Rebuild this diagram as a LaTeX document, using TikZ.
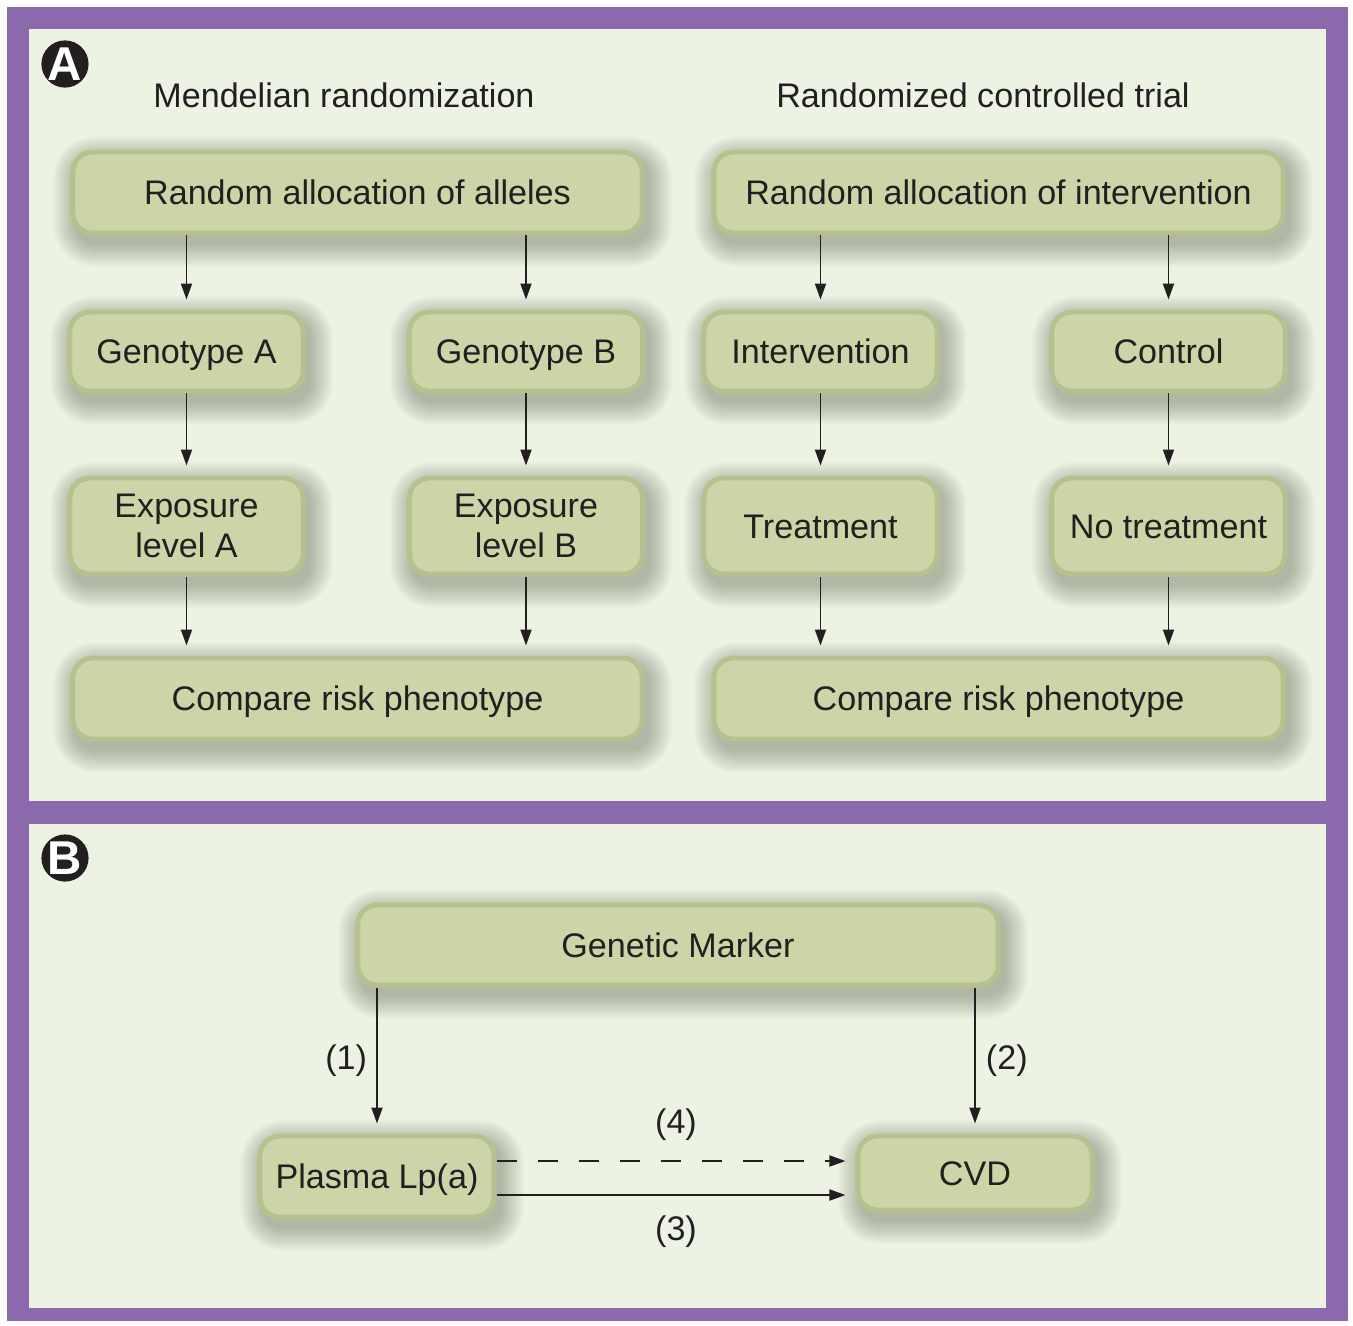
\documentclass[tikz,border=0pt]{standalone}
\usepackage{fontspec}
\setmainfont{Liberation Sans}
\usetikzlibrary{arrows.meta,calc,backgrounds}
\definecolor{framepurple}{HTML}{8A6AAC}
\definecolor{panelfill}{HTML}{EDF3E2}
\definecolor{boxfill}{HTML}{CDD5A8}
\definecolor{boxedge}{HTML}{B6C28E}
\definecolor{shadowgray}{HTML}{3C4432}
\definecolor{inkblack}{HTML}{231F20}
\begin{document}
\begin{tikzpicture}[x=0.01cm,y=-0.01cm]
        \tikzset{
          pics/softshadow/.style args={#1}{code={
            \foreach \k in {0,...,11}{
              \pgfmathsetmacro{\rr}{0.2+0.02*\k}
              \fill[shadowgray,opacity=0.03,rounded corners=\rr cm]
                ($(#1.south west)+(5-2*\k,9+2*\k)$) rectangle ($(#1.north east)+(5+2*\k,9-2*\k)$);
            }
            },
          },
          box/.style={rounded corners=0.2cm,fill=boxfill,draw=boxedge,line width=1.4pt,inner sep=0mm,
            align=center,text=inkblack,font=\fontsize{9.7}{11.6}\selectfont},
          onebox/.style={box,text height=7pt,text depth=0pt},
          widebox/.style={onebox,minimum width=5.69cm,minimum height=0.81cm},
          smallbox/.style={onebox,minimum width=2.33cm,minimum height=0.79cm},
          tallbox/.style={box,minimum width=2.33cm,minimum height=0.96cm},
          heading/.style={text=inkblack,font=\fontsize{9.7}{11.6}\selectfont},
          badge/.style={circle,fill=inkblack,text=white,inner sep=0mm,minimum size=0.44cm,font=\fontsize{13.5}{13.5}\bfseries\selectfont},
          arr/.style={-{Triangle[length=0.16cm,width=0.11cm]},draw=inkblack,line width=0.55pt,shorten >=0.1cm},
          numlabel/.style={text=inkblack,inner sep=0mm,font=\fontsize{9.7}{11.6}\selectfont}
        }
        \useasboundingbox (0,0) rectangle (1353,1326);

        %PANEL A
        \node[badge] (badgeA) at (65,64) {A};
        \node[heading] (mrtitle) at (344,95) {Mendelian randomization};
        \node[heading] (rcttitle) at (983,95) {Randomized controlled trial};

        \node[widebox] (alleles) at (357.5,192.5) {Random allocation of alleles};
        \node[widebox] (interv) at (998.5,192.5) {Random allocation of intervention};
        \node[smallbox] (gA) at (186.5,351.5) {Genotype A};
        \node[smallbox] (gB) at (526,351.5) {Genotype B};
        \node[smallbox] (intv) at (820.5,351.5) {Intervention};
        \node[smallbox] (ctrl) at (1168.5,351.5) {Control};
        \node[tallbox] (expA) at (186.5,526) {Exposure\\level A};
        \node[tallbox] (expB) at (526,526) {Exposure\\level B};
        \node[tallbox,text height=7pt,text depth=0pt] (treat) at (820.5,526) {Treatment};
        \node[tallbox,text height=7pt,text depth=0pt] (notreat) at (1168.5,526) {No treatment};
        \node[widebox] (compL) at (357.5,698.5) {Compare risk phenotype};
        \node[widebox] (compR) at (998.5,698.5) {Compare risk phenotype};

        \foreach \a/\b in {alleles/gA,alleles/gB,interv/intv,interv/ctrl,gA/expA,gB/expB,intv/treat,ctrl/notreat}
          \draw[arr] (\b.north |- \a.south) -- (\b.north);
        \foreach \a/\b in {expA/compL,expB/compL,treat/compR,notreat/compR}
          \draw[arr] (\a.south) -- (\a.south |- \b.north);

        %PANEL B
        \node[badge] (badgeB) at (65,858) {B};
        \node[onebox,minimum width=6.4cm,minimum height=0.8cm] (marker) at (678,945) {Genetic Marker};
        \node[onebox,minimum width=2.34cm,minimum height=0.81cm] (plasma) at (377,1176.5) {Plasma Lp(a)};
        \node[onebox,minimum width=2.34cm,minimum height=0.74cm] (cvd) at (975,1173) {CVD};

        \draw[arr] (plasma.north |- marker.south) -- node[numlabel,left=0.09cm] (lab1) {(1)} (plasma.north);
        \draw[arr] (cvd.north |- marker.south) -- node[numlabel,right=0.1cm] (lab2) {(2)} (cvd.north);

        \coordinate (dashstart) at ([yshift=0.155cm]plasma.east);
        \coordinate (solidstart) at ([yshift=-0.185cm]plasma.east);
        \draw[arr,dash pattern=on 0.2cm off 0.21cm] (dashstart) -- node[numlabel,above=0.19cm] (lab4) {(4)} (dashstart -| cvd.west);
        \draw[arr] (solidstart) -- node[numlabel,below=0.2cm] (lab3) {(3)} (solidstart -| cvd.west);

        %FRAME AND SHADOWS
        \begin{pgfonlayer}{background}
          \fill[framepurple] (7,7) rectangle (1348,1321);
          \fill[panelfill] (29,29) rectangle (1326,801);
          \fill[panelfill] (29,824) rectangle (1326,1308);
          \foreach \n in {alleles,interv,gA,gB,intv,ctrl,expA,expB,treat,notreat,compL,compR,marker,plasma,cvd}
            \pic {softshadow=\n};
        \end{pgfonlayer}
    \end{tikzpicture}
\end{document}
